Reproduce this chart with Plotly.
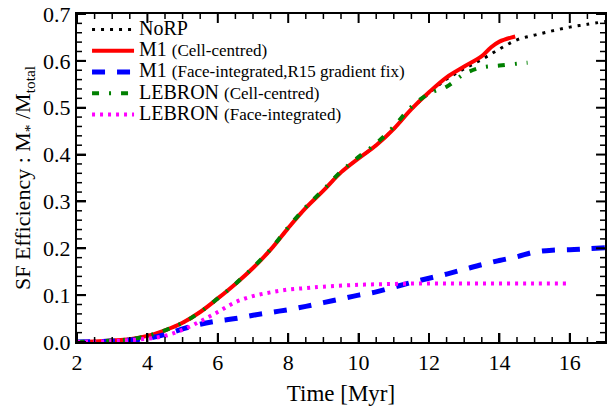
import numpy as np
import plotly.graph_objects as go

# ---- data ----
t_norp = [2, 2.5, 3, 3.5, 4, 4.5, 5, 5.5, 6, 6.5, 7, 7.5, 8, 8.5, 9, 9.5, 10, 10.5, 11, 11.5, 12, 12.5, 13, 13.5, 14, 14.5, 15, 15.5, 16, 16.5, 17]
v_norp = [0, 0.001, 0.003, 0.006, 0.013, 0.025, 0.041, 0.064, 0.093, 0.124, 0.158, 0.197, 0.243, 0.286, 0.323, 0.362, 0.392, 0.420, 0.455, 0.497, 0.531, 0.561, 0.583, 0.603, 0.625, 0.645, 0.655, 0.664, 0.672, 0.678, 0.684]

t_m1c = [2, 2.5, 3, 3.5, 4, 4.5, 5, 5.5, 6, 6.5, 7, 7.5, 8, 8.5, 9, 9.5, 10, 10.5, 11, 11.5, 12, 12.5, 13, 13.5, 13.75, 14, 14.45]
v_m1c = [0, 0.001, 0.003, 0.006, 0.013, 0.025, 0.041, 0.064, 0.093, 0.124, 0.158, 0.197, 0.243, 0.286, 0.323, 0.362, 0.392, 0.420, 0.455, 0.497, 0.533, 0.565, 0.588, 0.610, 0.628, 0.641, 0.652]

t_m1f = [2, 3, 4, 4.5, 5, 5.5, 6, 6.5, 7, 7.5, 8, 8.5, 9, 9.5, 10, 10.5, 11, 11.5, 12, 12.5, 13, 13.5, 14, 14.5, 15, 15.5, 16, 16.5, 17]
v_m1f = [0, 0.002, 0.008, 0.016, 0.028, 0.038, 0.045, 0.050, 0.057, 0.063, 0.069, 0.076, 0.084, 0.092, 0.100, 0.107, 0.117, 0.127, 0.136, 0.145, 0.155, 0.165, 0.174, 0.182, 0.192, 0.196, 0.197, 0.199, 0.201]

t_lebc = [2, 2.5, 3, 3.5, 4, 4.5, 5, 5.5, 6, 6.5, 7, 7.5, 8, 8.5, 9, 9.5, 10, 10.5, 11, 11.5, 12, 12.5, 13, 13.5, 14, 14.5, 14.8]
v_lebc = [0, 0.001, 0.003, 0.006, 0.013, 0.025, 0.041, 0.064, 0.093, 0.124, 0.159, 0.198, 0.245, 0.288, 0.325, 0.364, 0.395, 0.424, 0.460, 0.502, 0.530, 0.545, 0.572, 0.586, 0.590, 0.594, 0.596]

t_lebf = [2, 3, 4, 4.5, 5, 5.5, 6, 6.5, 7, 7.5, 8, 8.5, 9, 10, 11, 12, 13, 14, 15, 15.9]
v_lebf = [0, 0.002, 0.007, 0.013, 0.026, 0.044, 0.064, 0.085, 0.098, 0.106, 0.112, 0.115, 0.118, 0.122, 0.124, 0.125, 0.125, 0.125, 0.125, 0.125]

x_major = [2, 4, 6, 8, 10, 12, 14, 16]
x_minor = [v for v in np.arange(2.5, 17.0, 0.5).round(2) if v % 2 != 0]
y_major = [0.0, 0.1, 0.2, 0.3, 0.4, 0.5, 0.6, 0.7]
y_minor = [v for v in np.arange(0.02, 0.7, 0.02).round(2) if round(v * 10, 6) % 1 != 0]

FONT = "Liberation Serif, Times New Roman, serif"
BIG = "<span style='font-size:20px'>"
SMALL = "<span style='font-size:17px'>"

W, H = 609, 409
ML, MR, MT, MB = 77, 2, 13, 67
PW, PH = W - ML - MR, H - MT - MB
MAJ_LEN, MIN_LEN = 9, 5


def label(main, sub=None):
    s = BIG + main + "</span>"
    if sub:
        s += BIG + " </span>" + SMALL + sub + "</span>"
    return s


fig = go.Figure()
fig.add_trace(go.Scatter(x=t_norp, y=v_norp, mode="lines", line_shape="spline",
                         name=label("NoRP"),
                         line=dict(color="black", width=3, dash="3px,6px")))
fig.add_trace(go.Scatter(x=t_m1c, y=v_m1c, mode="lines", line_shape="spline",
                         name=label("M1", "(Cell-centred)"),
                         line=dict(color="red", width=4)))
fig.add_trace(go.Scatter(x=t_m1f, y=v_m1f, mode="lines", line_shape="spline",
                         name=label("M1", "(Face-integrated,R15 gradient fix)"),
                         line=dict(color="blue", width=5, dash="13px,12px")))
fig.add_trace(go.Scatter(x=t_lebc, y=v_lebc, mode="lines", line_shape="spline",
                         name=label("LEBRON", "(Cell-centred)"),
                         line=dict(color="green", width=4, dash="7px,10px,2px,10px")))
fig.add_trace(go.Scatter(x=t_lebf, y=v_lebf, mode="lines", line_shape="spline",
                         name=label("LEBRON", "(Face-integrated)"),
                         line=dict(color="magenta", width=4, dash="3px,5px")))

# tick marks on all four sides (drawn as shapes from the tick lists)
shapes = []
for vals, ln, w in ((x_major, MAJ_LEN, 2), (x_minor, MIN_LEN, 1.5)):
    f = ln / PH
    for v in vals:
        shapes.append(dict(type="line", xref="x", yref="paper", x0=v, x1=v, y0=0, y1=f,
                           line=dict(color="black", width=w)))
        shapes.append(dict(type="line", xref="x", yref="paper", x0=v, x1=v, y0=1, y1=1 - f,
                           line=dict(color="black", width=w)))
for vals, ln, w in ((y_major, MAJ_LEN, 2), (y_minor, MIN_LEN, 1.5)):
    f = ln / PW
    for v in vals:
        shapes.append(dict(type="line", xref="paper", yref="y", x0=0, x1=f, y0=v, y1=v,
                           line=dict(color="black", width=w)))
        shapes.append(dict(type="line", xref="paper", yref="y", x0=1, x1=1 - f, y0=v, y1=v,
                           line=dict(color="black", width=w)))

fig.update_layout(
    width=W, height=H,
    margin=dict(l=ML, r=MR, t=MT, b=MB),
    paper_bgcolor="white", plot_bgcolor="white",
    font=dict(family=FONT, color="black"),
    legend=dict(x=0.019, y=1.0, xanchor="left", yanchor="top",
                bgcolor="rgba(0,0,0,0)", font=dict(family=FONT, size=14, color="black"),
                tracegroupgap=0, itemwidth=42),
    showlegend=True,
    shapes=shapes,
    xaxis=dict(
        range=[2, 17], tickmode="array", tickvals=x_major, ticktext=[str(v) for v in x_major],
        showline=True, linecolor="black", linewidth=2, mirror=True,
        ticks="inside", ticklen=MAJ_LEN, tickwidth=2, tickcolor="black",
        showgrid=False, zeroline=False,
        tickfont=dict(family=FONT, size=22, color="black"),
        title=dict(text="Time [Myr]", font=dict(family=FONT, size=23, color="black"), standoff=10),
    ),
    yaxis=dict(
        range=[0, 0.7], tickmode="array", tickvals=y_major, ticktext=[f"{v:.1f}" for v in y_major],
        showline=True, linecolor="black", linewidth=2, mirror=True,
        ticks="inside", ticklen=MAJ_LEN, tickwidth=2, tickcolor="black",
        showgrid=False, zeroline=False,
        tickfont=dict(family=FONT, size=22, color="black"),
        title=dict(text="SF Efficiency : M<sub>*</sub> /M<sub>total</sub>",
                   font=dict(family=FONT, size=22, color="black"), standoff=6),
    ),
)

fig.write_html("out.html", config={"displayModeBar": False},
               post_script="document.body.style.margin='0';document.body.style.padding='0';")
